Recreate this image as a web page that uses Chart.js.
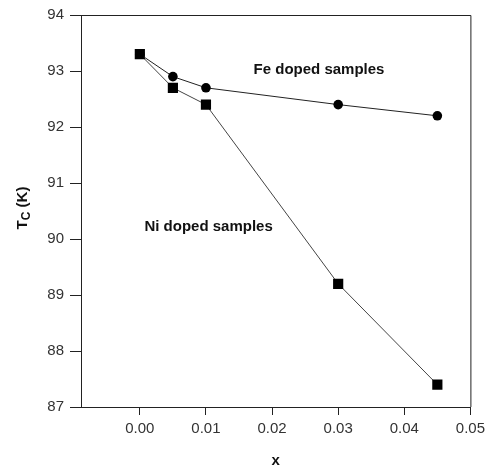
<!DOCTYPE html>
<html lang="en">
<head>
  <meta charset="UTF-8">
  <title>Tc vs x</title>
  <script src="https://cdn.jsdelivr.net/npm/chart.js"></script>
  <style>
    body { margin: 0; background: #fff; }
    #tcChart { display: block; }
  </style>
</head>
<body>
  <canvas id="tcChart" width="490" height="470"></canvas>

  <script>
    const xValues = [0.000, 0.005, 0.010, 0.030, 0.045];
    const feTc = [93.3, 92.9, 92.7, 92.4, 92.2];
    const niTc = [93.3, 92.7, 92.4, 89.2, 87.4];
    const xTicks = [0.00, 0.01, 0.02, 0.03, 0.04, 0.05];
    const yTicks = [87, 88, 89, 90, 91, 92, 93, 94];

    const labelFont = 'Liberation Sans, Arial, sans-serif';

    // frame, axis titles and in-plot labels
    const extras = {
      id: 'extras',
      afterDraw(chart) {
        const { ctx, chartArea: a, scales } = chart;
        ctx.save();
        ctx.strokeStyle = '#222';
        ctx.lineWidth = 1;
        ctx.beginPath();
        ctx.moveTo(a.left, a.top + 0.5);
        ctx.lineTo(a.right + 0.5, a.top + 0.5);
        ctx.lineTo(a.right + 0.5, a.bottom);
        ctx.stroke();

        ctx.fillStyle = '#111';
        ctx.font = 'bold 15px ' + labelFont;
        ctx.textAlign = 'center';
        ctx.textBaseline = 'middle';
        ctx.fillText('Fe doped samples', scales.x.getPixelForValue(0.0271), scales.y.getPixelForValue(93.02));
        ctx.fillText('Ni doped samples', scales.x.getPixelForValue(0.0104), scales.y.getPixelForValue(90.22));

        // x title
        ctx.fillText('x', (a.left + a.right) / 2, 461);

        // y title with subscript
        ctx.translate(22, 208);
        ctx.rotate(-Math.PI / 2);
        ctx.textAlign = 'left';
        ctx.textBaseline = 'alphabetic';
        ctx.font = 'bold 15px ' + labelFont;
        const tW = ctx.measureText('T').width;
        ctx.font = 'bold 12px ' + labelFont;
        const cW = ctx.measureText('C').width;
        ctx.font = 'bold 15px ' + labelFont;
        const restW = ctx.measureText(' (K)').width;
        let x0 = -(tW + cW + restW) / 2;
        ctx.fillText('T', x0, 5);
        ctx.font = 'bold 12px ' + labelFont;
        ctx.fillText('C', x0 + tW, 8);
        ctx.font = 'bold 15px ' + labelFont;
        ctx.fillText(' (K)', x0 + tW + cW, 5);
        ctx.restore();
      }
    };

    new Chart(document.getElementById('tcChart'), {
      type: 'line',
      data: {
        datasets: [
          {
            label: 'Fe doped samples',
            data: xValues.map((x, i) => ({ x: x, y: feTc[i] })),
            borderColor: '#222',
            borderWidth: 1,
            pointStyle: 'circle',
            pointRadius: 4.8,
            pointBackgroundColor: '#000',
            pointBorderColor: '#000',
            pointBorderWidth: 0,
            tension: 0
          },
          {
            label: 'Ni doped samples',
            data: xValues.map((x, i) => ({ x: x, y: niTc[i] })),
            borderColor: '#444',
            borderWidth: 1,
            pointStyle: 'rect',
            pointRadius: 7.2,
            pointBackgroundColor: '#000',
            pointBorderColor: '#000',
            pointBorderWidth: 0,
            tension: 0
          }
        ]
      },
      options: {
        responsive: false,
        animation: false,
        layout: { padding: { top: 15, right: 18, left: 0, bottom: 0 } },
        plugins: {
          legend: { display: false },
          tooltip: { enabled: false }
        },
        scales: {
          x: {
            type: 'linear',
            min: -0.0089,
            max: 0.05,
            afterBuildTicks: s => { s.ticks = xTicks.map(v => ({ value: v })); },
            afterFit: s => { s.height = 63; },
            grid: { drawOnChartArea: false, tickLength: 8, color: '#222' },
            border: { color: '#222', width: 1 },
            ticks: {
              color: '#333',
              font: { family: labelFont, size: 15 },
              padding: 5,
              maxRotation: 0,
              callback: v => v.toFixed(2)
            }
          },
          y: {
            min: 87,
            max: 94,
            afterBuildTicks: s => { s.ticks = yTicks.map(v => ({ value: v })); },
            afterFit: s => { s.width = 81; },
            grid: { drawOnChartArea: false, tickLength: 11, color: '#222' },
            border: { color: '#222', width: 1 },
            ticks: {
              color: '#333',
              font: { family: labelFont, size: 15 },
              padding: 6,
              callback: v => String(v)
            }
          }
        }
      },
      plugins: [extras]
    });
  </script>
</body>
</html>
